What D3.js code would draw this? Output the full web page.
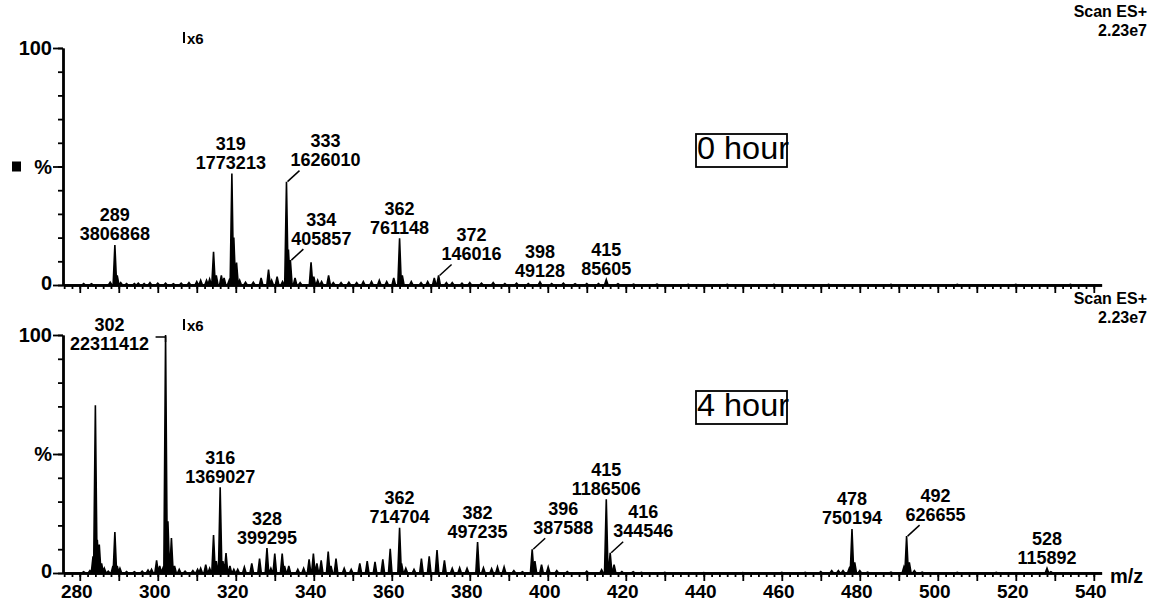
<!DOCTYPE html>
<html><head><meta charset="utf-8">
<script src="https://cdn.jsdelivr.net/npm/d3@7"></script>
<style>
body{margin:0;background:#fff;}
svg text{font-family:"Liberation Sans",Arial,sans-serif;fill:#000;}
</style></head><body><svg id="c" width="1155" height="602"></svg>
<script>
// ---------- data ----------
const panelNames = ["0 hour", "4 hour"];
const scanLines = ["Scan ES+", "2.23e7"];
const magLabel = "x6";
const xAxisTitle = "m/z";
const xTickValues = [280, 300, 320, 340, 360, 380, 400, 420, 440, 460, 480, 500, 520, 540];
const yTickText = ["0", "%", "100"];
const yTickVals = [0, 50, 100];

// 0 hour spectrum (m/z, relative intensity %)
const mz0 = [281,283,287.8,289,289.6,290.5,292,294,295,296.5,298,300,302,304,306,308,310,311,312.5,313.3,314.3,315,316.3,317,318.3,319,319.5,320.2,321,322.5,324.5,326.5,328.4,329.2,330.6,332,333,333.5,334,335.2,336.5,339.3,340,341,342,343.8,345,347,349,351,352.7,354.8,356.8,358.7,360.5,362,362.7,365,367.5,369.2,370.9,372,374,375.5,378,380,383,386,389,392,395,398,401,404,407,410,413,415,418,422,428,436,446,458,472,488,505,520,534];
const int0 = [0.6,0.5,1.2,16.9,4,1,0.6,0.6,0.8,0.6,1,0.8,0.8,0.5,0.8,1,1.5,2,2,2.5,14,4,4,3,2,47,20,9.5,2,1.2,1.2,3,6.5,2,3.5,1.5,43.6,15,10.5,3,1,9.6,3.5,2,1.5,4,1,1,1.2,1,1.5,1.5,2,1.5,3,19.7,4,1.5,1,1.5,3,4,1,1,0.8,1,0.8,1,0.6,0.8,0.6,1.3,0.6,0.8,0.5,0.6,0.6,2.3,0.5,0.4,0.4,0.3,0.3,0.3,0.3,0.3,0.3,0.3,0.3];

// 4 hour spectrum (m/z, relative intensity %)
const mz4 = [281,282.6,283.4,284,284.5,285,285.6,286.3,287.3,288.5,289,289.6,290.3,292,294,296,297.5,298.4,299.7,300.5,301.3,302,302.6,303.5,304.3,305.5,307,309,310.2,311,312.3,313.3,314.3,315,316,316.7,317.5,318.5,319.5,320.5,322.2,324.1,326.1,328,329,330,331.9,332.5,333.6,335.9,337.4,338.8,339.9,340.8,341.9,343.7,344.4,345.7,347.8,349.6,351.8,353.7,355.7,357.7,359.6,362,362.5,363.6,365.7,367.6,369.6,371.6,373.5,375.5,377.4,379.3,382,383.5,385.6,387.1,388.8,391.3,393.5,396,396.7,398.4,400.1,402.3,405,410,413.8,415,416,417,419,421.9,424,430,440,450,460,466,470,472.8,474.5,475.7,477.3,478,478.7,480,482,488,491.3,492,492.7,494,496,505,515,528,529];
const int4 = [0.5,1,7,70.5,14,12,4,2,0.8,3,17.2,3,2,0.6,0.5,0.8,1.2,1.5,5.3,3,2,100,21.7,14.7,3,1.5,0.8,1,1.5,2,3.5,2,16,5,36,5,8.4,3,1.5,1.5,2.5,4,6,10.5,2,8.2,8.2,3,3,1.5,2,5.7,8.2,4,5.3,9,3,6,2,1.5,4,5,4.7,5.7,10.2,19,4,2,1.5,6,7,9.6,5.3,2,2.2,2,13,2.2,1.8,2.6,2.6,1,0.5,10,5,3.5,2.6,1,0.6,0.8,1.4,31,8.5,3.5,0.6,0.5,0.3,0.3,0.2,0.2,0.3,0.3,0.6,1,1,1,2,18.5,4.5,1,0.4,0.4,2.5,15.5,4.5,1,0.4,0.3,0.3,2,0.5];

// peak annotations
const lab0Mz = [289, 319, 333, 334, 362, 372, 398, 415];
const lab0Val = ["3806868", "1773213", "1626010", "405857", "761148", "146016", "49128", "85605"];
const lab4Mz = [302, 316, 328, 362, 382, 396, 415, 416, 478, 492, 528];
const lab4Val = ["22311412", "1369027", "399295", "714704", "497235", "387588", "1186506", "344546", "750194", "626655", "115892"];

// ---------- layout ----------
const lab0Dx = [0, -1, 39, 31, 0, 33, 0, 0];
const lab4Dx = [-56, 0, 0, 0, 0, 31, 0, 33, 0, 29, 0];
const panels = [
  {mz: mz0, it: int0, labMz: lab0Mz, labVal: lab0Val, labDx: lab0Dx, y0: 285, y100: 48, boxTop: 134, square: true, xLabels: false},
  {mz: mz4, it: int4, labMz: lab4Mz, labVal: lab4Val, labDx: lab4Dx, y0: 573, y100: 335, boxTop: 391, square: false, xLabels: true}
];

const svg = d3.select("#c");
const x = d3.scaleLinear().domain([275.7, 542]).range([63, 1101.6]);
const halfW = 0.45;

panels.forEach((p, pi) => {
  const y = d3.scaleLinear().domain([0, 100]).range([p.y0, p.y100]);
  const g = svg.append("g");

  // spectrum
  const pts = [];
  const order = d3.range(p.mz.length).sort((a, b) => p.mz[a] - p.mz[b]);
  pts.push([x.domain()[0], 0]);
  order.forEach(i => {
    pts.push([p.mz[i] - halfW, 0]);
    pts.push([p.mz[i], p.it[i]]);
    pts.push([p.mz[i] + halfW, 0]);
  });
  pts.push([x.domain()[1], 0]);
  const line = d3.line().x(d => x(d[0])).y(d => y(d[1]));
  g.append("path").attr("d", line(pts))
    .attr("fill", "#000").attr("stroke", "#000").attr("stroke-width", 1.6).attr("stroke-linejoin", "miter");

  // x axis
  const xMinor = d3.axisBottom(x).tickValues(d3.range(276, 542, 2)).tickSize(4).tickSizeOuter(0).tickFormat("");
  const xMajor = d3.axisBottom(x).tickValues(d3.range(280, 541, 10)).tickSize(8).tickSizeOuter(0).tickFormat("");
  [xMinor, xMajor].forEach(ax => {
    const a = g.append("g").attr("transform", `translate(0,${p.y0})`).call(ax);
    a.select(".domain").attr("stroke", "#000").attr("stroke-width", 2.4);
    a.selectAll(".tick line").attr("stroke", "#000").attr("stroke-width", 1.8);
  });
  if (p.xLabels) {
    g.selectAll(".xl").data(xTickValues).enter().append("text")
      .attr("x", d => x(d) - 3).attr("y", p.y0 + 25)
      .attr("text-anchor", "middle").attr("font-size", 19).attr("font-weight", "bold")
      .text(d => d);
    g.append("text").attr("x", 1110).attr("y", p.y0 + 10).attr("font-size", 20)
      .attr("font-weight", "bold").text(xAxisTitle);
  }

  // y axis
  const yMinor = d3.axisLeft(y).tickValues(d3.range(0, 101, 10)).tickSize(5).tickSizeOuter(0).tickFormat("");
  const yMajor = d3.axisLeft(y).tickValues(yTickVals).tickSize(10).tickSizeOuter(0).tickFormat("");
  [yMinor, yMajor].forEach(ax => {
    const a = g.append("g").attr("transform", `translate(${x.range()[0]},0)`).call(ax);
    a.select(".domain").attr("stroke", "#000").attr("stroke-width", 2.4);
    a.selectAll(".tick line").attr("stroke", "#000").attr("stroke-width", 1.8);
  });
  g.selectAll(".yl").data(yTickVals).enter().append("text")
    .attr("x", 52).attr("y", (d) => y(d) + 7 - (d === 0 ? 2 : 0))
    .attr("text-anchor", "end").attr("font-size", 20).attr("font-weight", "bold")
    .text((d, i) => yTickText[i]);
  if (p.square) {
    g.append("rect").attr("x", 12).attr("y", y(50) - 5).attr("width", 9).attr("height", 10).attr("fill", "#000");
  }

  // scan info
  scanLines.forEach((s, i) => {
    g.append("text").attr("x", 1147).attr("y", p.y100 - 31 + i * 19).attr("text-anchor", "end")
      .attr("font-size", 16).attr("font-weight", "bold").text(s);
  });

  // magnification marker
  g.append("line").attr("x1", 184).attr("x2", 184).attr("y1", p.y100 - 16).attr("y2", p.y100 - 5)
    .attr("stroke", "#000").attr("stroke-width", 2);
  g.append("text").attr("x", 187).attr("y", p.y100 - 4).attr("font-size", 15).attr("font-weight", "bold").text(magLabel);

  // panel label box
  g.append("rect").attr("x", 696).attr("y", p.boxTop).attr("width", 91).attr("height", 33)
    .attr("fill", "none").attr("stroke", "#000").attr("stroke-width", 1.8);
  g.append("text").attr("x", 697).attr("y", p.boxTop + 25).attr("font-size", 32)
    .attr("textLength", 92).attr("lengthAdjust", "spacingAndGlyphs").text(panelNames[pi]);

  // peak annotations
  p.labMz.forEach((m, i) => {
    const idx = p.mz.indexOf(m);
    const h = p.it[idx];
    const px = x(m), top = y(h);
    const dx = p.labDx[i];
    let cx = px + dx, l2;
    if (h >= 99) {
      l2 = top + 8;
      g.append("path").attr("d", `M${px - 10},${top + 2}H${px}V${top + 7}`)
        .attr("fill", "none").attr("stroke", "#000").attr("stroke-width", 1.5);
    } else if (dx > 10) {
      l2 = top - 22;
      g.append("line").attr("x1", px + 1).attr("y1", top).attr("x2", px + 13).attr("y2", top - 11)
        .attr("stroke", "#000").attr("stroke-width", 1.5);
    } else {
      l2 = top - 11;
    }
    const t = g.append("text").attr("text-anchor", "middle").attr("font-size", 18).attr("font-weight", "bold");
    t.append("tspan").attr("x", cx).attr("y", l2 - 19 + 6.5).text(m);
    t.append("tspan").attr("x", cx).attr("y", l2 + 6.5).text(p.labVal[i]);
  });
});
</script></body></html>
